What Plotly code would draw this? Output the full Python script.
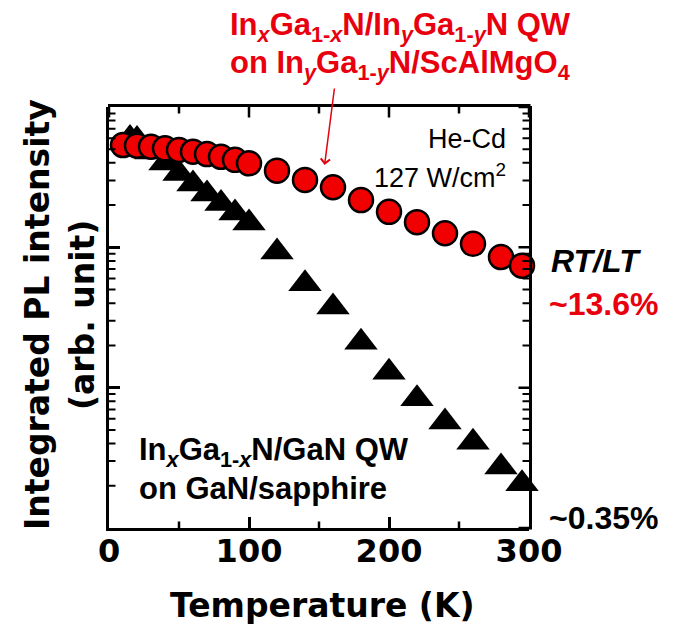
import math
import plotly.graph_objects as go

# ---------------- data ----------------
T_circ = [10, 20, 30, 40, 50, 60, 70, 80, 90, 100, 120, 140, 160, 180, 200, 220, 240, 260, 280, 295]
I_circ = [0.536, 0.530, 0.521, 0.508, 0.494, 0.480, 0.462, 0.442, 0.420, 0.397,
          0.352, 0.302, 0.268, 0.217, 0.179, 0.151, 0.126, 0.106, 0.0853, 0.0740]

T_tri = [15, 20, 30, 40, 50, 60, 70, 80, 90, 100, 120, 140, 160, 180, 200, 220, 240, 260, 280, 295]
I_tri = [0.596, 0.587, 0.478, 0.399, 0.336, 0.283, 0.240, 0.205, 0.1756, 0.149,
         0.0926, 0.0551, 0.0375, 0.0211, 0.0129, 0.00834, 0.00569, 0.00409, 0.00272, 0.00207]

x_ticks = [0, 100, 200, 300]
x_minor = [50, 150, 250]
y_decades = [0.001, 0.01, 0.1, 1]
y_minor = [m * d for d in [0.001, 0.01, 0.1] for m in range(2, 10)]

X_RANGE = [0, 300]
Y_RANGE_LOG = [-3, 0]

# ---------------- layout geometry ----------------
W, H = 686, 628
ML, MR, MT, MB = 109, 157, 107, 100
PW, PH = W - ML - MR, H - MT - MB


def px(x):
    return (x - ML) / PW


def py(y):
    return (H - MB - y) / PH


def xfrac(v):
    return (v - X_RANGE[0]) / (X_RANGE[1] - X_RANGE[0])


def yfrac(v):
    return (math.log10(v) - Y_RANGE_LOG[0]) / (Y_RANGE_LOG[1] - Y_RANGE_LOG[0])


RED = "#E8000E"
ARIAL = "Liberation Sans, Arial, sans-serif"
AXF = "DejaVu Sans, sans-serif"

fig = go.Figure()
fig.add_trace(go.Scatter(
    x=T_tri, y=I_tri, mode="markers", cliponaxis=False,
    marker=dict(symbol="triangle-up", size=29, color="black", line=dict(width=0)),
    showlegend=False))
fig.add_trace(go.Scatter(
    x=T_circ, y=I_circ, mode="markers", cliponaxis=False,
    marker=dict(symbol="circle", size=24, color="#F00000", line=dict(width=2.5, color="black")),
    showlegend=False))

fig.update_layout(
    xaxis=dict(
        range=X_RANGE, tickmode="array", tickvals=x_ticks, ticktext=[str(v) for v in x_ticks],
        ticks="inside", ticklen=11, tickwidth=2.5, tickcolor="black",
        showline=True, linewidth=3, linecolor="black",
        showgrid=False, zeroline=False,
        tickfont=dict(family=AXF, size=32, color="black", weight="bold"),
        ticklabelstandoff=-7,
    ),
    yaxis=dict(
        type="log", range=Y_RANGE_LOG, tickmode="array", tickvals=y_decades,
        ticks="inside", ticklen=11, tickwidth=2.5, tickcolor="black",
        showline=True, linewidth=3, linecolor="black",
        showgrid=False, zeroline=False, showticklabels=False,
    ),
)

ann = []


def seg(xp, yp, dx, dy, width):
    """Straight segment (headless annotation arrow) ending at paper point (xp, yp),
    starting dx, dy pixels away."""
    ann.append(dict(xref="paper", yref="paper", x=xp, y=yp, ax=dx, ay=dy,
                    axref="pixel", ayref="pixel", text="", showarrow=True,
                    arrowhead=0, arrowwidth=width, arrowcolor="black",
                    standoff=0, startstandoff=0, borderpad=0))


# frame: top and right edges (just outside the plot area, like the axis lines)
seg(1 + 1.5 / PW, 1 + 1.5 / PH, -(PW + 3), 0, 3)
seg(1 + 1.5 / PW, -1.5 / PH, 0, -(PH + 3), 3)

for v in x_ticks:                       # top major ticks
    seg(xfrac(v), 1, 0, 11, 2.5)
for v in x_minor:                       # top and bottom minor ticks
    seg(xfrac(v), 1, 0, 7, 2.5)
    seg(xfrac(v), 0, 0, -7, 2.5)
for v in y_decades:                     # right major ticks
    seg(1, yfrac(v), -11, 0, 2.5)
for v in y_minor:                       # left and right minor ticks
    seg(1, yfrac(v), -7, 0, 2)
    seg(0, yfrac(v), 7, 0, 2)


def text(x, y, s, size, color="black", family=ARIAL, xanchor="left", bold=True, angle=0):
    t = f"<b>{s}</b>" if bold else s
    ann.append(dict(xref="paper", yref="paper", x=px(x), y=py(y), text=t, showarrow=False,
                    xanchor=xanchor, yanchor="middle", textangle=angle,
                    font=dict(family=family, size=size, color=color)))


# red sample label
text(400, 27, "In<sub><i>x</i></sub>Ga<sub>1-<i>x</i></sub>N/In<sub><i>y</i></sub>Ga<sub>1-<i>y</i></sub>N QW",
     31, RED, xanchor="center")
text(400, 65, "on In<sub><i>y</i></sub>Ga<sub>1-<i>y</i></sub>N/ScAlMgO<sub>4</sub>", 31, RED, xanchor="center")

# arrow pointing at the red data set (annotation y on log axis is given as log10)
ann.append(dict(xref="x", yref="y", x=154, y=math.log10(0.386), ax=10, ay=-78,
                axref="pixel", ayref="pixel",
                text="", showarrow=True, arrowhead=4, arrowsize=1.2, arrowwidth=1.5, arrowcolor=RED))

# He-Cd
text(508, 139, "He-Cd", 27, bold=False, xanchor="right")
text(508, 176, "127 W/cm<sup>2</sup>", 27, bold=False, xanchor="right")

# black sample label
text(137, 452, "In<sub><i>x</i></sub>Ga<sub>1-<i>x</i></sub>N/GaN QW", 31)
text(137, 488, "on GaN/sapphire", 31)

# RT/LT
text(549, 261, "<i>RT/LT</i>", 32)
text(547, 304, "~13.6%", 32, RED)
text(547, 518, "~0.35%", 32)

# axis titles
text(322, 605, "Temperature (K)", 33, family=AXF, xanchor="center")
text(37, 315, "Integrated PL intensity", 33, family=AXF, xanchor="center", angle=-90)
text(82, 315, "(arb. unit)", 33, family=AXF, xanchor="center", angle=-90)

fig.update_layout(
    width=W, height=H, margin=dict(l=ML, r=MR, t=MT, b=MB, pad=0),
    paper_bgcolor="white", plot_bgcolor="white",
    annotations=ann, showlegend=False,
)

fig.write_html("out.html")
